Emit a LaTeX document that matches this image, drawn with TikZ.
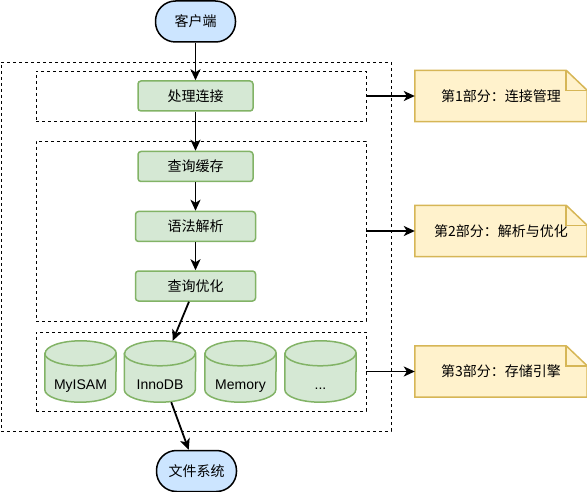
\documentclass[tikz,border=0pt]{standalone}
\usepackage{fontspec}
\setmainfont{Liberation Sans}
\newfontfamily\cjk{Noto Sans CJK SC}
\usetikzlibrary{arrows.meta,backgrounds}
\definecolor{clientfill}{HTML}{CCE5FF}
\definecolor{stepfill}{HTML}{D5E8D4}
\definecolor{stepline}{HTML}{82B366}
\definecolor{notefill}{HTML}{FFF2CC}
\definecolor{noteline}{HTML}{D6B656}

\begin{document}
\begin{tikzpicture}[x=1pt, y=-1pt,
font=\fontsize{14}{16}\selectfont,
client/.style={draw=black, line width=1.5pt, fill=clientfill, rounded corners=20pt,
  minimum width=80pt, minimum height=41pt, inner sep=0pt, font=\cjk\fontsize{14}{16}\selectfont},
stepbox/.style={draw=stepline, line width=1.5pt, fill=stepfill, rounded corners=3pt,
  minimum width=115pt, minimum height=30pt, inner sep=0pt, font=\cjk\fontsize{14}{16}\selectfont},
engine/.style={minimum width=71pt, minimum height=61pt, inner sep=0pt, text height=35pt, text depth=0pt},
part/.style={draw=black, line width=0.8pt, dash pattern=on 3pt off 3pt, inner sep=0pt},
memo/.style={minimum width=172pt, minimum height=51pt, inner sep=0pt, font=\cjk\fontsize{14}{16}\selectfont},
flow/.style={line width=1.8pt, -{Stealth[length=11pt, width=10pt, inset=3pt]}}]

\useasboundingbox (0,0) rectangle (587,492);

% server and its three parts
\node[part, minimum width=390pt, minimum height=369pt] (server) at (196,246.5) {};
\node[part, minimum width=330pt, minimum height=50pt] (layer1) at (201,96) {};
\node[part, minimum width=330pt, minimum height=180pt] (layer2) at (201,231) {};
\node[part, minimum width=330pt, minimum height=79pt] (layer3) at (201,371.5) {};

\node[client] (client) at (195.5,21.5) {客户端};
\node[client] (fs) at (196.5,471) {文件系统};

\node[stepbox] (connect) at (195.5,96) {处理连接};
\node[stepbox] (cache) at (195.5,166.5) {查询缓存};
\node[stepbox, minimum width=120pt] (parse) at (195.5,226.5) {语法解析};
\node[stepbox, minimum width=120pt] (optimize) at (195.5,286) {查询优化};

\node[engine] (myisam) at (80.5,371.5) {MyISAM};
\node[engine] (innodb) at (160,371.5) {InnoDB};
\node[engine] (memory) at (240.5,371.5) {Memory};
\node[engine] (more) at (320.5,371.5) {...};

\node[memo] (note1) at (501,96) {第1部分：连接管理};
\node[memo] (note2) at (501,231) {第2部分：解析与优化};
\node[memo] (note3) at (501,371.5) {第3部分：存储引擎};

\begin{scope}[on background layer]
\foreach \e in {myisam,innodb,memory,more}
{
    \filldraw[draw=stepline, fill=stepfill, line width=1.5pt]
    ([yshift=-12.5pt]\e.north west) -- ([yshift=12.5pt]\e.south west)
    arc[start angle=180, end angle=360, x radius=35.5pt, y radius=12.5pt]
    -- ([yshift=-12.5pt]\e.north east)
    arc[start angle=0, end angle=180, x radius=35.5pt, y radius=12.5pt] -- cycle;
    \draw[stepline, line width=1.5pt] ([yshift=-12.5pt]\e.north west)
    arc[start angle=180, end angle=360, x radius=35.5pt, y radius=12.5pt];
};
\foreach \m in {note1,note2,note3}
{
    \filldraw[draw=noteline, fill=notefill, line width=1.5pt]
    (\m.north west) -- ([xshift=-21pt]\m.north east) -- ([yshift=-20pt]\m.north east)
    -- (\m.south east) -- (\m.south west) -- cycle;
    \draw[noteline, line width=1.5pt] ([xshift=-21pt]\m.north east)
    -- ([xshift=-21pt,yshift=-20pt]\m.north east) -- ([yshift=-20pt]\m.north east);
};
\end{scope}

\draw[flow] (client) -- (connect);
\draw[flow] (connect) -- (cache);
\draw[flow] (cache) -- (parse);
\draw[flow] (parse) -- (optimize);
\draw[flow] (optimize) -- (innodb);
\draw[flow] (innodb) -- (fs);

\foreach \p/\n in {layer1/note1, layer2/note2, layer3/note3}
{
    \draw[flow] (\p) -- (\n);
};

\end{tikzpicture}
\end{document}
